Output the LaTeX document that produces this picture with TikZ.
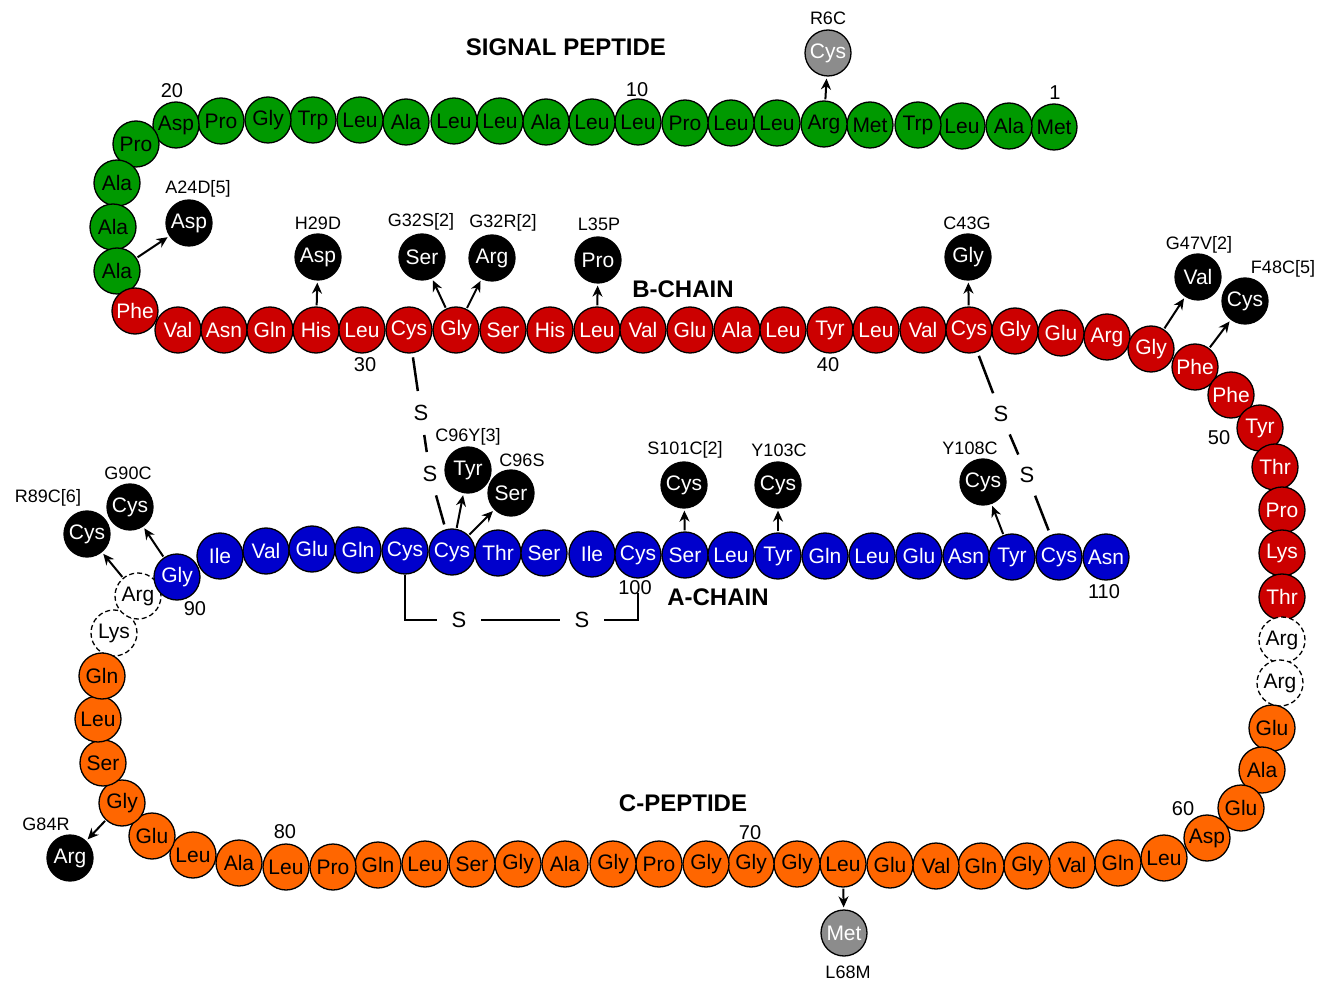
\documentclass[tikz,border=0pt]{standalone}
\usepackage{fontspec}
\setmainfont{Liberation Sans}
\usetikzlibrary{arrows.meta,shapes.geometric}
\usepackage{xcolor}
\definecolor{spgreen}{RGB}{0,153,0}
\definecolor{bred}{RGB}{204,0,0}
\definecolor{ablue}{RGB}{0,0,204}
\definecolor{corange}{RGB}{255,102,0}

\begin{document}
\begin{tikzpicture}[x=1pt,y=-1pt]
\tikzstyle{res} = [circle, draw=black, line width=1.3pt, minimum size=46pt,
inner sep=0pt, font=\fontsize{21}{24}\selectfont]
\tikzstyle{sp} = [res, fill=spgreen]
\tikzstyle{bc} = [res, fill=bred, text=white]
\tikzstyle{ac} = [res, fill=ablue, text=white]
\tikzstyle{cp} = [res, fill=corange]
\tikzstyle{cut} = [res, dash pattern=on 5pt off 3pt, fill=white]
\tikzstyle{mut} = [res, fill=black, text=white]
\tikzstyle{poly} = [res, fill=black!45, text=white]
\tikzstyle{lbl} = [font=\fontsize{18}{18}\selectfont, inner sep=0pt]
\tikzstyle{num} = [font=\fontsize{20}{20}\selectfont, inner sep=0pt]
\tikzstyle{title} = [font=\bfseries\fontsize{24}{24}\selectfont, inner sep=0pt]
\tikzstyle{sletter} = [circle, minimum size=44pt, inner sep=0pt, font=\fontsize{22}{22}\selectfont]
\tikzstyle{ss} = [draw, line width=2.5pt]
\tikzstyle{mutline} = [draw, line width=2pt, -{Stealth[length=11pt,width=10pt]},
shorten <=1pt, shorten >=2pt]
\useasboundingbox (0,0) rectangle (1334,981);

% signal peptide
\foreach \n/\x/\y/\aa in {1/1054/127/Met, 2/1009/126/Ala, 3/962/126/Leu, 4/918/125/Trp,
5/870/125/Met, 6/824/124/Arg, 7/777/123/Leu, 8/731/123/Leu, 9/685/123/Pro, 10/638/122/Leu,
11/592/122/Leu, 12/546/122/Ala, 13/500/121/Leu, 14/454/121/Leu, 15/406/122/Ala, 16/360/120/Leu,
17/313/120/Trp, 18/268/120/Gly, 19/221/121/Pro, 20/176/125/Asp, 21/136/144/Pro, 22/117/183/Ala,
23/113/227/Ala, 24/117/271/Ala}
\node[sp] (r\n) at (\x,\y) {\aa};

% B-chain
\foreach \n/\x/\y/\aa in {25/135/311/Phe, 26/178/330/Val, 27/224/330/Asn, 28/270/330/Gln,
29/316/330/His, 30/362/330/Leu, 31/409/330/Cys, 32/456/330/Gly, 33/503/330/Ser, 34/550/330/His,
35/597/330/Leu, 36/643/330/Val, 37/690/330/Glu, 38/737/330/Ala, 39/783/330/Leu, 40/830/330/Tyr,
41/876/330/Leu, 42/923/330/Val, 43/969/330/Cys, 44/1015/331/Gly, 45/1061/333/Glu, 46/1107/337/Arg,
47/1151/349/Gly, 48/1195/367/Phe, 49/1231/395/Phe, 50/1260/428/Tyr, 51/1275/467/Thr,
52/1282/510/Pro, 53/1282/553/Lys, 54/1282/597/Thr}
\node[bc] (r\n) at (\x,\y) {\aa};

% cleaved
\foreach \n/\x/\y/\aa in {55/1282/640/Arg, 56/1280/683/Arg, 88/114/633/Lys, 89/138/596/Arg}
\node[cut] (r\n) at (\x,\y) {\aa};

% C-peptide
\foreach \n/\x/\y/\aa in {57/1272/728/Glu, 58/1262/770/Ala, 59/1241/808/Glu, 60/1207/838/Asp,
61/1164/858/Leu, 62/1118/863/Gln, 63/1072/865/Val, 64/1027/866/Gly, 65/981/866/Gln,
66/936/866/Val, 67/890/865/Glu, 68/843/864/Leu, 69/797/864/Gly, 70/751/864/Gly, 71/706/864/Gly,
72/659/864/Pro, 73/613/864/Gly, 74/565/864/Ala, 75/518/864/Gly, 76/472/864/Ser, 77/425/864/Leu,
78/378/865/Gln, 79/333/867/Pro, 80/286/867/Leu, 81/239/863/Ala, 82/193/855/Leu, 83/152/836/Glu,
84/122/803/Gly, 85/103/763/Ser, 86/98/719/Leu, 87/102/676/Gln}
\node[cp] (r\n) at (\x,\y) {\aa};

% A-chain
\foreach \n/\x/\y/\aa in {90/177/577/Gly, 91/220/556/Ile, 92/266/551/Val, 93/312/549/Glu,
94/358/550/Gln, 95/405/551/Cys, 96/452/552/Cys, 97/498/553/Thr, 98/544/553/Ser, 99/592/554/Ile,
100/638/555/Cys, 101/685/555/Ser, 102/731/555/Leu, 103/778/556/Tyr, 104/825/556/Gln,
105/872/556/Leu, 106/919/556/Glu, 107/966/556/Asn, 108/1012/557/Tyr, 109/1059/557/Cys,
110/1106/557/Asn}
\node[ac] (r\n) at (\x,\y) {\aa};

% disulfide bridges
\node[sletter] (s1) at (421,413) {S};
\node[sletter] (s2) at (430,474) {S};
\node[sletter] (s3) at (1001,414) {S};
\node[sletter] (s4) at (1027,475) {S};
\node[sletter] (s5) at (459,620) {S};
\node[sletter] (s6) at (582,620) {S};
\path[ss, shorten <=4pt] (r31) -- (s1);
\path[ss] (s1) -- (s2);
\path[ss, shorten >=5pt] (s2) -- (r96);
\path[ss, shorten <=4pt] (r43) -- (s3);
\path[ss] (s3) -- (s4);
\path[ss, shorten >=5pt] (s4) -- (r109);
\path[ss] (r95.south) |- (s5);
\path[ss] (s5) -- (s6);
\path[ss, shorten >=14pt] (s6) -| (r100.south);

% mutations
\foreach \m/\st/\x/\y/\aa/\lx/\ly/\lab/\f in {
r6c/poly/828/53/Cys/828/18/R6C/6,
a24d/mut/189/223/Asp/198/189/{A24D[5]}/24,
h29d/mut/318/257/Asp/318/223/H29D/29,
g32s/mut/422/257/Ser/421/222/{G32S[2]}/32,
g32r/mut/492/258/Arg/503/223/{G32R[2]}/32,
l35p/mut/598/260/Pro/599/224/L35P/35,
c43g/mut/968/257/Gly/967/223/C43G/43,
g47v/mut/1198/277/Val/1199/245/{G47V[2]}/47,
f48c/mut/1245/301/Cys/1283/269/{F48C[5]}/48,
l68m/poly/844/933/Met/848/972/L68M/68,
g84r/mut/70/858/Arg/46/824/G84R/84,
r89c/mut/87/534/Cys/48/498/{R89C[6]}/89,
g90c/mut/130/507/Cys/128/473/G90C/90,
c96y/mut/468/470/Tyr/468/437/{C96Y[3]}/96,
c96s/mut/511/493/Ser/522/460/C96S/96,
s101c/mut/684/485/Cys/685/450/{S101C[2]}/101,
y103c/mut/778/485/Cys/779/450/Y103C/103,
y108c/mut/983/482/Cys/970/448/Y108C/108}
{
\node[\st] (m\m) at (\x,\y) {\aa};
\node[lbl] (l\m) at (\lx,\ly) {\lab};
\path[mutline] (r\f) -- (m\m);
}

% numbering
\foreach \n/\x/\y in {20/172/91, 10/637/90, 1/1055/93, 30/365/365, 40/828/365, 50/1219/438,
60/1183/809, 70/750/833, 80/285/832, 90/195/609, 100/635/588, 110/1104/592}
\node[num] (n\n) at (\x,\y) {\n};

\node[title] (tsig) at (566,47) {SIGNAL PEPTIDE};
\node[title] (tb) at (683,289) {B-CHAIN};
\node[title] (ta) at (718,597) {A-CHAIN};
\node[title] (tc) at (683,803) {C-PEPTIDE};

\end{tikzpicture}
\end{document}
